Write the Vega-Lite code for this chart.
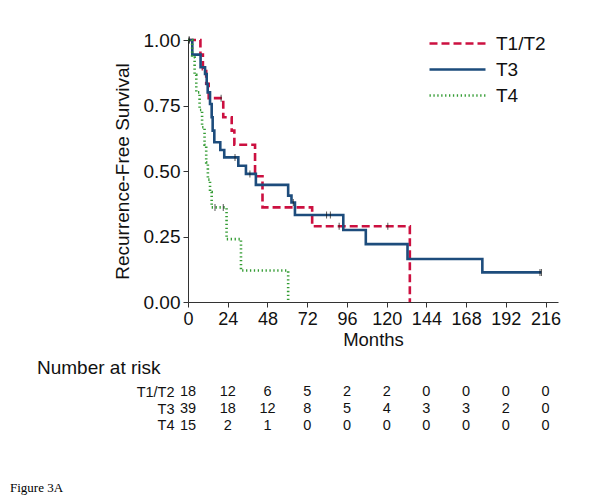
{
  "$schema": "https://vega.github.io/schema/vega-lite/v6.json",
  "padding": {"left": 10, "top": 31, "right": 5, "bottom": 5},
  "background": "white",
  "config": {
    "font": "Liberation Sans",
    "view": {"stroke": null},
    "concat": {"spacing": 10}
  },
  "title": {
    "text": "Figure 3A",
    "orient": "bottom",
    "anchor": "start",
    "frame": "group",
    "font": "Liberation Serif",
    "fontSize": 13,
    "fontWeight": "normal",
    "color": "black",
    "offset": 48,
    "dx": -178
  },
  "datasets": {
    "curves": [
      {"group": "T1/T2", "month": 0, "surv": 1.0},
      {"group": "T1/T2", "month": 7.5, "surv": 0.944},
      {"group": "T1/T2", "month": 9, "surv": 0.889},
      {"group": "T1/T2", "month": 11, "surv": 0.833},
      {"group": "T1/T2", "month": 12.5, "surv": 0.778},
      {"group": "T1/T2", "month": 21.3, "surv": 0.705},
      {"group": "T1/T2", "month": 26.4, "surv": 0.654},
      {"group": "T1/T2", "month": 28, "surv": 0.6},
      {"group": "T1/T2", "month": 40.5, "surv": 0.48},
      {"group": "T1/T2", "month": 45, "surv": 0.361},
      {"group": "T1/T2", "month": 75, "surv": 0.289},
      {"group": "T1/T2", "month": 134, "surv": 0.0},
      {"group": "T3", "month": 0, "surv": 1.0},
      {"group": "T3", "month": 2.6, "surv": 0.944},
      {"group": "T3", "month": 7.6, "surv": 0.896},
      {"group": "T3", "month": 10.3, "surv": 0.87},
      {"group": "T3", "month": 11.3, "surv": 0.832},
      {"group": "T3", "month": 11.9, "surv": 0.8},
      {"group": "T3", "month": 13.3, "surv": 0.756},
      {"group": "T3", "month": 14.3, "surv": 0.705},
      {"group": "T3", "month": 14.9, "surv": 0.654},
      {"group": "T3", "month": 15.9, "surv": 0.61},
      {"group": "T3", "month": 19.5, "surv": 0.58},
      {"group": "T3", "month": 21.9, "surv": 0.552},
      {"group": "T3", "month": 30.4, "surv": 0.52},
      {"group": "T3", "month": 35, "surv": 0.489},
      {"group": "T3", "month": 41, "surv": 0.447},
      {"group": "T3", "month": 60.5, "surv": 0.406},
      {"group": "T3", "month": 62.5, "surv": 0.38},
      {"group": "T3", "month": 64.6, "surv": 0.332},
      {"group": "T3", "month": 93.8, "surv": 0.275},
      {"group": "T3", "month": 107.4, "surv": 0.221},
      {"group": "T3", "month": 132.6, "surv": 0.164},
      {"group": "T3", "month": 177.8, "surv": 0.113},
      {"group": "T3", "month": 213.5, "surv": 0.113},
      {"group": "T4", "month": 0, "surv": 1.0},
      {"group": "T4", "month": 2.5, "surv": 0.933},
      {"group": "T4", "month": 4, "surv": 0.867},
      {"group": "T4", "month": 5, "surv": 0.8},
      {"group": "T4", "month": 7, "surv": 0.733},
      {"group": "T4", "month": 8.5, "surv": 0.667},
      {"group": "T4", "month": 10, "surv": 0.6},
      {"group": "T4", "month": 11, "surv": 0.533},
      {"group": "T4", "month": 12, "surv": 0.467},
      {"group": "T4", "month": 13.3, "surv": 0.42},
      {"group": "T4", "month": 14.3, "surv": 0.361},
      {"group": "T4", "month": 23.3, "surv": 0.24},
      {"group": "T4", "month": 32, "surv": 0.12},
      {"group": "T4", "month": 60.5, "surv": 0.0}
    ],
    "censor": [
      {"group": "T1/T2", "month": 0.6, "surv": 1.0},
      {"group": "T1/T2", "month": 20, "surv": 0.778},
      {"group": "T1/T2", "month": 91.3, "surv": 0.289},
      {"group": "T1/T2", "month": 120.7, "surv": 0.289},
      {"group": "T3", "month": 0.8, "surv": 1.0},
      {"group": "T3", "month": 28.4, "surv": 0.552},
      {"group": "T3", "month": 37.4, "surv": 0.489},
      {"group": "T3", "month": 63.6, "surv": 0.38},
      {"group": "T3", "month": 83.7, "surv": 0.332},
      {"group": "T3", "month": 86, "surv": 0.332},
      {"group": "T3", "month": 212.6, "surv": 0.113},
      {"group": "T3", "month": 213.5, "surv": 0.113},
      {"group": "T4", "month": 16.3, "surv": 0.361},
      {"group": "T4", "month": 21.3, "surv": 0.361}
    ],
    "risk": [
      {"group": "T1/T2", "month": 0, "n": 18},
      {"group": "T1/T2", "month": 24, "n": 12},
      {"group": "T1/T2", "month": 48, "n": 6},
      {"group": "T1/T2", "month": 72, "n": 5},
      {"group": "T1/T2", "month": 96, "n": 2},
      {"group": "T1/T2", "month": 120, "n": 2},
      {"group": "T1/T2", "month": 144, "n": 0},
      {"group": "T1/T2", "month": 168, "n": 0},
      {"group": "T1/T2", "month": 192, "n": 0},
      {"group": "T1/T2", "month": 216, "n": 0},
      {"group": "T3", "month": 0, "n": 39},
      {"group": "T3", "month": 24, "n": 18},
      {"group": "T3", "month": 48, "n": 12},
      {"group": "T3", "month": 72, "n": 8},
      {"group": "T3", "month": 96, "n": 5},
      {"group": "T3", "month": 120, "n": 4},
      {"group": "T3", "month": 144, "n": 3},
      {"group": "T3", "month": 168, "n": 3},
      {"group": "T3", "month": 192, "n": 2},
      {"group": "T3", "month": 216, "n": 0},
      {"group": "T4", "month": 0, "n": 15},
      {"group": "T4", "month": 24, "n": 2},
      {"group": "T4", "month": 48, "n": 1},
      {"group": "T4", "month": 72, "n": 0},
      {"group": "T4", "month": 96, "n": 0},
      {"group": "T4", "month": 120, "n": 0},
      {"group": "T4", "month": 144, "n": 0},
      {"group": "T4", "month": 168, "n": 0},
      {"group": "T4", "month": 192, "n": 0},
      {"group": "T4", "month": 216, "n": 0}
    ]
  },
  "vconcat": [
    {
      "width": 370,
      "height": 262,
      "layer": [
        {
          "data": {"name": "curves"},
          "mark": {"type": "line", "interpolate": "step-after", "clip": false},
          "encoding": {
            "x": {
              "field": "month", "type": "quantitative",
              "scale": {"domain": [0, 223.5], "nice": false, "zero": true},
              "axis": {
                "title": "Months", "values": [0, 24, 48, 72, 96, 120, 144, 168, 192, 216],
                "grid": false, "tickSize": 5, "labelPadding": 3, "labelFontSize": 18,
                "titleFontSize": 18.5, "titleFontWeight": "normal", "titlePadding": 2,
                "domainColor": "#333", "tickColor": "#333", "labelColor": "#111", "titleColor": "#111",
                "labelFlush": false, "labelOverlap": false
              }
            },
            "y": {
              "field": "surv", "type": "quantitative",
              "scale": {"domain": [0, 1], "nice": false},
              "axis": {
                "title": "Recurrence-Free Survival", "values": [0, 0.25, 0.5, 0.75, 1],
                "format": ".2f", "grid": false, "tickSize": 5, "labelPadding": 3,
                "labelFontSize": 19, "titleFontSize": 19, "titleFontWeight": "normal",
                "titlePadding": 11, "domainColor": "#333", "tickColor": "#333",
                "labelColor": "#111", "titleColor": "#111", "labelFlush": false
              }
            },
            "color": {
              "field": "group", "type": "nominal",
              "scale": {"domain": ["T1/T2", "T3", "T4"], "range": ["#cc1040", "#1d4c7c", "#349c34"]},
              "legend": {
                "title": null, "orient": "none", "legendX": 260, "legendY": -6,
                "symbolType": "M-4,0H4", "symbolSize": 196, "labelFontSize": 19,
                "labelColor": "#111", "labelOffset": 29, "rowPadding": 6
              }
            },
            "strokeDash": {
              "field": "group", "type": "nominal",
              "scale": {"domain": ["T1/T2", "T3", "T4"], "range": [[8, 4], [1, 0], [1.3, 2.6]]}
            },
            "strokeWidth": {
              "field": "group", "type": "nominal",
              "scale": {"domain": ["T1/T2", "T3", "T4"], "range": [2.6, 2.6, 1.4]}
            }
          }
        },
        {
          "data": {"name": "censor"},
          "mark": {"type": "tick", "orient": "vertical", "size": 7, "thickness": 1, "color": "#111"},
          "encoding": {
            "x": {"field": "month", "type": "quantitative"},
            "y": {"field": "surv", "type": "quantitative"}
          }
        }
      ]
    },
    {
      "width": 370,
      "height": 50,
      "title": {
        "text": "Number at risk",
        "anchor": "start",
        "frame": "group",
        "dx": -151,
        "offset": 6,
        "fontSize": 19,
        "fontWeight": "normal",
        "color": "#111"
      },
      "data": {"name": "risk"},
      "mark": {"type": "text", "font": "Liberation Sans", "fontSize": 14.5, "color": "#111", "baseline": "middle", "align": "center"},
      "encoding": {
        "x": {"field": "month", "type": "quantitative", "scale": {"domain": [0, 223.5], "nice": false}, "axis": null},
        "y": {
          "field": "group", "type": "nominal",
          "scale": {"domain": ["T1/T2", "T3", "T4"], "paddingInner": 0, "paddingOuter": 0},
          "axis": {"title": null, "domain": false, "ticks": false, "labelPadding": 14,
                   "labelFont": "Liberation Sans", "labelFontSize": 14.5, "labelColor": "#111"}
        },
        "text": {"field": "n", "type": "quantitative"}
      }
    }
  ]
}
